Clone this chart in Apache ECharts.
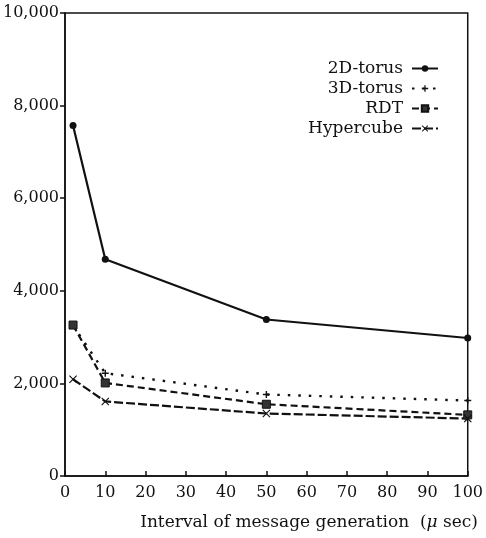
<!DOCTYPE html>
<html>
<head>
<meta charset="utf-8">
<script src="https://cdn.jsdelivr.net/npm/echarts@6/dist/echarts.min.js"></script>
<style>
  html, body { margin: 0; padding: 0; background: #fff; }
  #main { width: 486px; height: 538px; }
</style>
</head>
<body>
<div id="main"></div>
<script>
// data
const intervals = [2, 10, 50, 100];
const seriesNames = ["2D-torus", "3D-torus", "RDT", "Hypercube"];
const torus2d = [7570, 4680, 3380, 2980];
const torus3d = [3250, 2220, 1760, 1630];
const rdt = [3260, 2010, 1550, 1320];
const hypercube = [2090, 1610, 1350, 1240];
const xTicks = [0, 10, 20, 30, 40, 50, 60, 70, 80, 90, 100];

const font = "DejaVu Serif";
const ink = "#111";

const myChart = echarts.init(document.getElementById("main"));

// small x-shaped and plus-shaped marks
const crossPath = "path://M0,1L1,0L5,4L9,0L10,1L6,5L10,9L9,10L5,6L1,10L0,9L4,5Z";
const plusPath = "path://M0,4L4,4L4,0L6,0L6,4L10,4L10,6L6,6L6,10L4,10L4,6L0,6Z";

function pairs(vals) {
  return intervals.map((x, i) => [x, vals[i]]);
}

const option = {
  animation: false,
  grid: {
    left: 63,
    right: 14,
    top: 13,
    bottom: 62,
    show: true,
    borderColor: ink,
    borderWidth: 1.5,
  },
  title: {
    text: "Interval of message generation  ({mu|μ} sec)",
    right: 3,
    top: 509,
    textStyle: {
      fontFamily: font,
      fontSize: 17,
      fontWeight: "normal",
      color: ink,
      rich: {
        mu: { fontFamily: font, fontStyle: "italic", fontSize: 17, color: ink },
      },
    },
  },
  legend: {
    orient: "vertical",
    right: 42,
    top: 55,
    align: "right",
    itemWidth: 26,
    itemHeight: 8,
    itemGap: 3,
    data: seriesNames,
    textStyle: { fontFamily: font, fontSize: 17, color: ink, padding: [0, 4, 0, 0] },
  },
  xAxis: {
    type: "value",
    min: 0,
    max: 100,
    interval: 10,
    axisLine: { lineStyle: { color: ink, width: 1.5 } },
    axisTick: { inside: true, length: 5, lineStyle: { color: ink, width: 1.5 } },
    axisLabel: {
      fontFamily: font,
      fontSize: 16,
      color: ink,
      margin: 9,
      customValues: xTicks,
    },
    splitLine: { show: false },
  },
  yAxis: {
    type: "value",
    min: 0,
    max: 10000,
    interval: 2000,
    axisLine: { show: true, lineStyle: { color: ink, width: 1.5 } },
    axisTick: { show: true, length: 5, lineStyle: { color: ink, width: 1.5 } },
    axisLabel: {
      fontFamily: font,
      fontSize: 16,
      color: ink,
      margin: 6,
      formatter: (v) => v.toLocaleString("en-US"),
    },
    splitLine: { show: false },
  },
  series: [
    {
      name: seriesNames[0],
      type: "line",
      data: pairs(torus2d),
      symbol: "circle",
      symbolSize: 7,
      lineStyle: { color: ink, width: 2.2, type: "solid" },
      itemStyle: { color: ink },
    },
    {
      name: seriesNames[1],
      type: "line",
      data: pairs(torus3d),
      symbol: plusPath,
      symbolSize: 7,
      lineStyle: { color: ink, width: 2.4, type: [2.5, 8] },
      itemStyle: { color: ink },
    },
    {
      name: seriesNames[2],
      type: "line",
      data: pairs(rdt),
      symbol: "rect",
      symbolSize: 8,
      lineStyle: { color: ink, width: 2.2, type: [7, 4] },
      itemStyle: { color: "#333", borderColor: ink, borderWidth: 1 },
    },
    {
      name: seriesNames[3],
      type: "line",
      data: pairs(hypercube),
      symbol: crossPath,
      symbolSize: 8,
      lineStyle: { color: ink, width: 2.2, type: [9, 3] },
      itemStyle: { color: ink },
    },
  ],
};

myChart.setOption(option);
</script>
</body>
</html>
